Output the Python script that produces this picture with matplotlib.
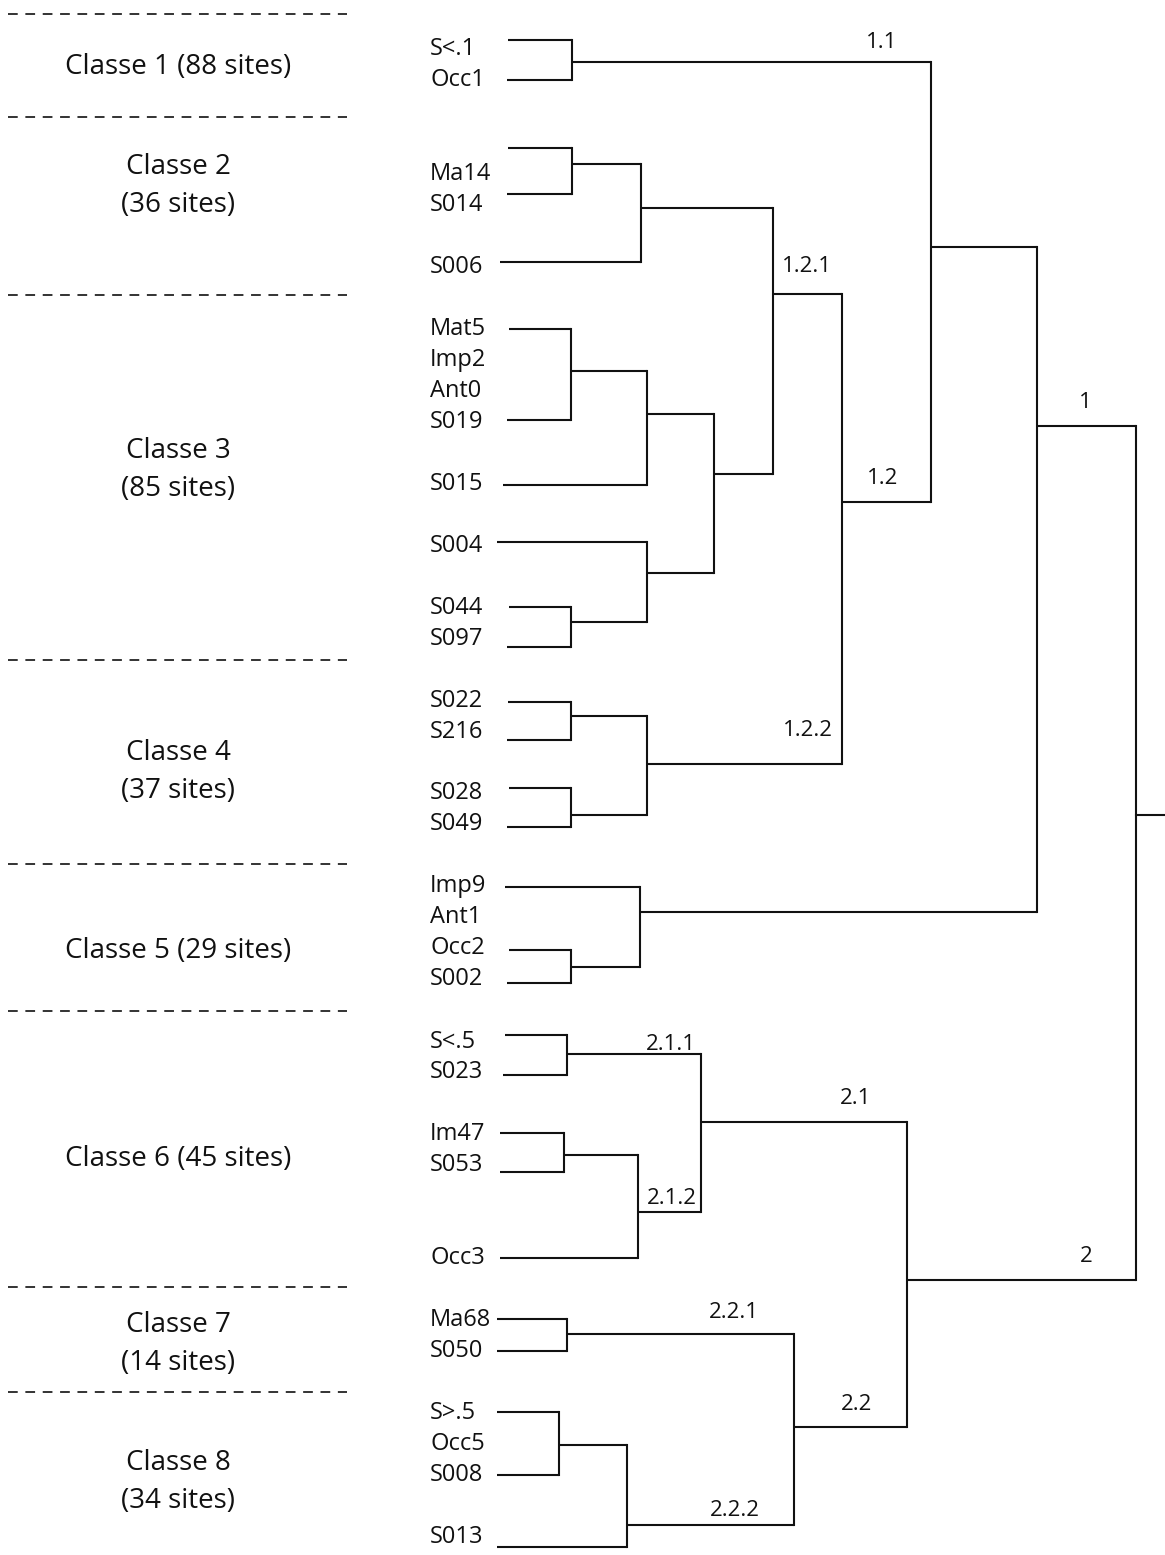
import matplotlib.pyplot as plt

plt.rcParams['font.family'] = ['Open Sans', 'DejaVu Sans']
plt.rcParams['lines.scale_dashes'] = False

# ---------------------------------------------------------
# Data (pixel-like units, y grows downward)
# ---------------------------------------------------------
leaf_names = ['S<.1', 'Occ1', 'Ma14', 'S014', 'S006', 'Mat5', 'Imp2', 'Ant0',
              'S019', 'S015', 'S004', 'S044', 'S097', 'S022', 'S216', 'S028',
              'S049', 'Imp9', 'Ant1', 'Occ2', 'S002', 'S<.5', 'S023', 'Im47',
              'S053', 'Occ3', 'Ma68', 'S050', 'S>.5', 'Occ5', 'S008', 'S013']
leaf_y = [47, 78, 172, 203, 265, 327, 358, 389, 420, 482, 544, 606, 637, 699,
          730, 791, 822, 884, 915, 946, 977, 1040, 1070, 1132, 1163, 1256,
          1318, 1349, 1411, 1442, 1473, 1535]

class_names = ['Classe 1 (88 sites)', 'Classe 2\n(36 sites)', 'Classe 3\n(85 sites)',
               'Classe 4\n(37 sites)', 'Classe 5 (29 sites)', 'Classe 6 (45 sites)',
               'Classe 7\n(14 sites)', 'Classe 8\n(34 sites)']
class_y = [65, 184, 468, 770, 949, 1157, 1342, 1480]
class_bounds = [14, 117, 295, 660, 864, 1011, 1287, 1392]

# leaf branches: leaf -> (start x, y)
stub_leaf = ['S<.1', 'Occ1', 'Ma14', 'S014', 'S006', 'Mat5', 'S019', 'S015',
             'S004', 'S044', 'S097', 'S022', 'S216', 'S028', 'S049', 'Imp9',
             'Occ2', 'S002', 'S<.5', 'S023', 'Im47', 'S053', 'Occ3', 'Ma68',
             'S050', 'S>.5', 'S008', 'S013']
stub_x = [508, 507, 508, 507, 500, 509, 507, 503, 497, 509, 507, 508, 507, 509,
          507, 505, 509, 507, 505, 503, 500, 500, 500, 497, 497, 497, 497, 497]
stub_y = [40, 80, 148, 194, 262, 329, 420, 485, 542, 607, 647, 702, 740, 788,
          827, 887, 950, 983, 1035, 1075, 1133, 1172, 1258, 1319, 1351, 1412,
          1475, 1547]

# merge nodes: height (x), output level (y), children
node_ids = ['A', 'B', 'C', 'D', 'E', 'F', 'G', 'H', 'I', 'J1', 'J2', 'J', 'K',
            'L', 'M1', 'M', 'N', 'P1', 'P2', 'P3', 'P', 'Q1', 'Q2', 'Q3', 'Q',
            'R', 'root']
node_x = [572, 572, 641, 571, 647, 571, 647, 714, 773, 571, 571, 647, 842,
          931, 571, 640, 1037, 567, 564, 638, 701, 567, 559, 627, 794, 907, 1136]
node_y = [62, 164, 208, 371, 414, 622, 573, 474, 294, 716, 815, 764, 502,
          247, 967, 912, 426, 1054, 1155, 1212, 1122, 1334, 1445, 1525, 1427,
          1280, 815]
node_children = [['S<.1', 'Occ1'], ['Ma14', 'S014'], ['B', 'S006'],
                 ['Mat5', 'S019'], ['D', 'S015'], ['S044', 'S097'],
                 ['S004', 'F'], ['E', 'G'], ['C', 'H'], ['S022', 'S216'],
                 ['S028', 'S049'], ['J1', 'J2'], ['I', 'J'], ['A', 'K'],
                 ['Occ2', 'S002'], ['Imp9', 'M1'], ['L', 'M'],
                 ['S<.5', 'S023'], ['Im47', 'S053'], ['P2', 'Occ3'],
                 ['P1', 'P3'], ['Ma68', 'S050'], ['S>.5', 'S008'],
                 ['Q2', 'S013'], ['Q1', 'Q3'], ['P', 'Q'], ['N', 'R']]

branch_labels = ['1.1', '1.2.1', '1.2', '1', '1.2.2', '2.1.1', '2.1.2', '2.1',
                 '2', '2.2.1', '2.2.2', '2.2']
label_x = [882, 807, 883, 1085, 808, 671, 672, 856, 1086, 734, 735, 857]
label_y = [41, 265, 477, 402, 730, 1043, 1198, 1097, 1256, 1312, 1510, 1404]

# ---------------------------------------------------------
fig = plt.figure(figsize=(11.65, 15.55), dpi=100)
ax = fig.add_axes([0, 0, 1, 1])
ax.set_xlim(0, 1165)
ax.set_ylim(1555, 0)
ax.axis('off')

ink = '#111111'
lw = 1.5

pos = {}
for name, x, y in zip(stub_leaf, stub_x, stub_y):
    pos[name] = (x, y)
for name, x, y in zip(node_ids, node_x, node_y):
    pos[name] = (x, y)

for name, x, children in zip(node_ids, node_x, node_children):
    ys = []
    for c in children:
        cx, cy = pos[c]
        ax.plot([cx, x], [cy, cy], color=ink, lw=lw, solid_capstyle='butt')
        ys.append(cy)
    ax.plot([x, x], [min(ys), max(ys)], color=ink, lw=lw, solid_capstyle='projecting')

# root stem
rx, ry = pos['root']
ax.plot([rx, 1165], [ry, ry], color=ink, lw=lw)

for name, y in zip(leaf_names, leaf_y):
    ax.text(430, y + 2, name, ha='left', va='center', fontsize=17, color=ink)

for txt, x, y in zip(branch_labels, label_x, label_y):
    ax.text(x, y + 1, txt, ha='center', va='center', fontsize=16, color=ink)

for b in class_bounds:
    ax.plot([8, 347], [b, b], color=ink, lw=1.2, dashes=(7, 5.5))

for txt, y in zip(class_names, class_y):
    ax.text(178, y + 2, txt, ha='center', va='center', fontsize=20, color=ink,
            linespacing=1.52)

fig.savefig('out.png', dpi=100)
